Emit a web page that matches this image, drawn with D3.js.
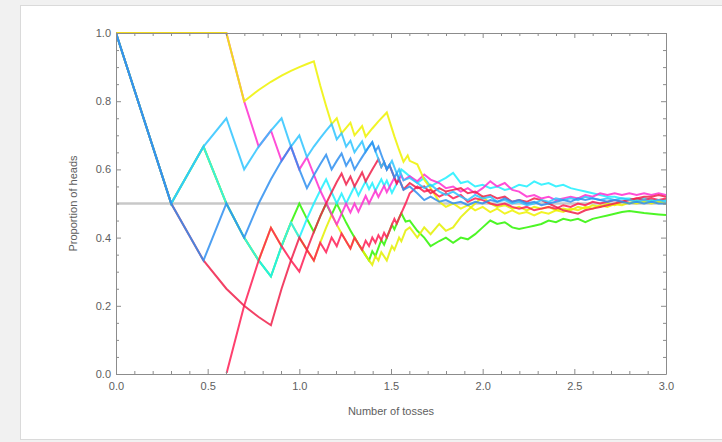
<!DOCTYPE html>
<html>
<head>
<meta charset="utf-8">
<script src="https://cdn.jsdelivr.net/npm/d3@7"></script>
<style>
  html, body { margin: 0; padding: 0; background: #f1f1f1; }
  svg { display: block; }
</style>
</head>
<body>
<svg id="chart" width="722" height="442"></svg>
<script>
// Running proportion of heads, one walk per colour.
// Early tosses are listed as [toss number, proportion]; later tosses share tossTicks.
const tossTicks = [40, 44, 48, 52, 58, 63, 69, 76, 83, 91, 100, 110, 120, 132, 145, 158, 174, 191,
  209, 229, 251, 275, 302, 331, 363, 398, 437, 479, 525, 575, 631, 692, 759, 832, 912, 1000];

const xTicks = [0, 0.5, 1, 1.5, 2, 2.5, 3];
const yTicks = [0, 0.2, 0.4, 0.6, 0.8, 1];

const greenEarly = [[1,1],[2,.5],[3,.667],[4,.5],[5,.4],[6,.333],[7,.286],[8,.375],[9,.444],[10,.5],[11,.455],[12,.417],[13,.462],[14,.5],[15,.467],[16,.5],[17,.471],[18,.444],[19,.421],[20,.4],[21,.381],[22,.364],[23,.348],[24,.333],[25,.36],[26,.346],[27,.37],[28,.393],[29,.379],[30,.4],[31,.419],[32,.438],[33,.424],[34,.441],[35,.457],[36,.472],[37,.459],[38,.447]];
const greenTail = [.45,.42,.40,.375,.39,.40,.385,.40,.395,.41,.43,.45,.44,.445,.43,.425,.43,.435,.44,.45,.445,.455,.45,.455,.445,.455,.46,.465,.47,.475,.478,.475,.472,.47,.468,.466];

const yellowLowEarly = [[1,1],[2,.5],[3,.667],[4,.5],[5,.4],[6,.333],[7,.429],[8,.375],[9,.444],[10,.4],[11,.364],[12,.333],[13,.385],[14,.429],[15,.467],[16,.438],[17,.412],[18,.389],[19,.368],[20,.4],[21,.381],[22,.364],[23,.348],[24,.333],[25,.32],[26,.346],[27,.333],[28,.357],[29,.345],[30,.333],[31,.355],[32,.375],[33,.364],[34,.382],[35,.4],[36,.389],[37,.405],[38,.421]];
const yellowLowTail = [.43,.40,.43,.41,.44,.42,.43,.46,.48,.50,.52,.50,.49,.495,.485,.49,.48,.49,.485,.49,.48,.485,.48,.49,.485,.495,.49,.50,.495,.505,.50,.51,.505,.51,.505,.51];

const cyanEarly = [[1,1],[2,.5],[3,.667],[4,.5],[5,.4],[6,.333],[7,.286],[8,.375],[9,.444],[10,.4],[11,.455],[12,.5],[13,.538],[14,.571],[15,.533],[16,.5],[17,.529],[18,.5],[20,.55],[21,.524],[22,.545],[23,.565],[24,.542],[25,.56],[26,.538],[28,.571],[29,.552],[30,.567],[32,.531],[34,.559],[36,.6],[37,.595]];
const cyanTail = [.58,.56,.575,.55,.565,.575,.59,.56,.565,.55,.555,.545,.55,.54,.545,.555,.55,.565,.555,.56,.55,.555,.545,.54,.535,.53,.525,.52,.52,.515,.515,.51,.515,.51,.51,.51];

const magentaEarly = [[1,1],[2,1],[3,1],[4,1],[5,.8],[6,.667],[7,.714],[8,.625],[9,.667],[10,.6],[11,.636],[13,.538],[16,.438],[18,.5],[19,.474],[20,.5],[21,.476],[23,.522],[24,.5],[26,.538],[27,.519],[29,.552],[30,.533],[33,.576],[34,.559],[36,.583],[37,.568]];
const magentaTail = [.58,.565,.585,.57,.56,.545,.55,.535,.545,.53,.545,.565,.55,.56,.54,.535,.52,.525,.515,.52,.51,.515,.52,.515,.525,.52,.53,.525,.53,.525,.53,.525,.53,.525,.53,.525];

const yellowHighEarly = [[1,1],[2,1],[3,1],[4,1],[5,.8],[6,.833],[7,.857],[8,.875],[9,.889],[10,.9],[11,.909],[12,.917],[13,.846],[14,.786],[15,.733],[16,.75],[17,.706],[18,.722],[19,.737],[20,.70],[21,.714],[22,.727],[23,.696],[25,.72],[27,.741],[30,.767],[33,.697],[35,.657],[37,.622],[39,.641]];
const yellowHighTail = [.625,.615,.57,.545,.505,.49,.50,.485,.495,.48,.49,.475,.485,.47,.48,.47,.475,.465,.475,.47,.48,.475,.485,.48,.49,.485,.495,.49,.498,.495,.503,.50,.505,.50,.505,.50];

const redLowEarly = [[1,0],[2,0],[3,0],[4,0],[5,.2],[6,.333],[7,.429],[8,.375],[9,.333],[10,.3],[11,.364],[12,.333],[13,.385],[14,.357],[15,.4],[16,.375],[17,.412],[18,.389],[19,.368],[20,.4],[21,.381],[22,.364],[23,.391],[24,.375],[25,.4],[26,.385],[27,.407],[28,.393],[29,.414],[30,.4],[31,.419],[32,.438],[33,.455],[34,.441],[35,.457],[36,.472],[37,.486],[38,.5]];
const redLowTail = [.53,.55,.535,.54,.52,.53,.515,.525,.505,.515,.51,.50,.495,.50,.49,.485,.49,.48,.485,.49,.485,.495,.49,.50,.495,.505,.50,.505,.51,.505,.51,.515,.51,.515,.51,.515];

const redHighEarly = [[1,1],[2,.5],[3,.333],[4,.25],[5,.2],[6,.167],[7,.143],[8,.25],[9,.333],[10,.4],[11,.364],[12,.417],[13,.462],[14,.5],[15,.533],[16,.563],[17,.588],[18,.556],[19,.579],[20,.55],[21,.571],[22,.591],[23,.565],[24,.583],[25,.6],[26,.615],[27,.63],[28,.607],[29,.621],[30,.6],[31,.613],[32,.594],[33,.576],[34,.559],[35,.571],[36,.556],[37,.541]];
const redHighTail = [.56,.545,.55,.53,.545,.535,.54,.545,.53,.535,.52,.525,.515,.52,.505,.51,.505,.515,.51,.50,.49,.48,.475,.47,.48,.485,.49,.495,.50,.505,.51,.515,.52,.52,.525,.52];

const skyEarly = [[1,1],[2,.5],[3,.667],[4,.75],[5,.6],[6,.667],[7,.714],[8,.75],[9,.667],[10,.7],[11,.636],[12,.667],[13,.692],[14,.714],[15,.733],[16,.688],[17,.706],[18,.667],[19,.684],[20,.65],[21,.667],[22,.682],[23,.652],[24,.667],[25,.68],[26,.654],[28,.607],[29,.621],[30,.6],[32,.625],[34,.588],[35,.6],[37,.568]];
const skyTail = [.575,.56,.545,.555,.535,.525,.535,.52,.51,.525,.515,.52,.505,.51,.50,.505,.495,.50,.51,.505,.515,.51,.515,.51,.52,.515,.51,.515,.51,.515,.51,.505,.51,.505,.51,.505];

const blueEarly = [[1,1],[2,.5],[3,.333],[4,.5],[5,.4],[6,.5],[7,.571],[8,.625],[9,.667],[10,.6],[11,.545],[12,.583],[13,.615],[14,.643],[15,.6],[16,.625],[17,.647],[18,.611],[19,.632],[20,.6],[21,.619],[22,.636],[23,.652],[24,.667],[25,.68],[26,.654],[27,.667],[28,.643],[30,.6],[31,.613],[33,.576],[34,.588],[37,.54]];
const blueTail = [.55,.53,.51,.52,.505,.51,.50,.505,.495,.505,.50,.51,.505,.515,.505,.51,.50,.505,.495,.50,.505,.51,.505,.515,.51,.515,.51,.505,.51,.505,.50,.505,.50,.505,.50,.50];

// drawing order: first is underneath
const walks = [
  { early: greenEarly, tail: greenTail, color: '#2ef500' },
  { early: yellowLowEarly, tail: yellowLowTail, color: '#e4f000' },
  { early: cyanEarly, tail: cyanTail, color: '#1ff0ff' },
  { early: magentaEarly, tail: magentaTail, color: '#ff2fd0' },
  { early: yellowHighEarly, tail: yellowHighTail, color: '#eef200' },
  { early: redLowEarly, tail: redLowTail, color: '#ff1f55' },
  { early: redHighEarly, tail: redHighTail, color: '#f0204a' },
  { early: skyEarly, tail: skyTail, color: '#2fc4ff' },
  { early: blueEarly, tail: blueTail, color: '#2f8ff0' }
];

const svg = d3.select('#chart');
const plotLeft = 116, plotRight = 666, plotTop = 33, plotBottom = 374;
const font = '"Liberation Sans", Arial, sans-serif';
const frameColor = '#8c8c8c';
const textColor = '#5e5e5e';

// white panel
svg.append('rect')
  .attr('x', 20.5).attr('y', 5.5)
  .attr('width', 720).attr('height', 434)
  .attr('fill', '#fff')
  .attr('stroke', '#dadada');

const x = d3.scaleLinear().domain([0, 3]).range([plotLeft, plotRight]);
const y = d3.scaleLinear().domain([0, 1]).range([plotBottom, plotTop]);

svg.append('defs').append('clipPath').attr('id', 'plotClip')
  .append('rect')
  .attr('x', plotLeft).attr('y', plotTop - 2)
  .attr('width', plotRight - plotLeft).attr('height', plotBottom - plotTop + 1);

// reference line at one half
svg.append('line')
  .attr('x1', x(0)).attr('x2', x(3))
  .attr('y1', y(0.5)).attr('y2', y(0.5))
  .attr('stroke', '#c8c8c8')
  .attr('stroke-width', 2.5);

const line = d3.line()
  .x(d => x(Math.log10(d[0])))
  .y(d => y(d[1]));

svg.append('g')
  .attr('clip-path', 'url(#plotClip)')
  .selectAll('path')
  .data(walks)
  .join('path')
  .attr('d', w => line(w.early.concat(w.tail.map((p, i) => [tossTicks[i], p]))))
  .attr('fill', 'none')
  .attr('stroke', w => w.color)
  .attr('stroke-width', 2)
  .attr('stroke-opacity', 0.85);

// frame with inward ticks
const fmt = d3.format('.1f');
const minorX = d3.range(1, 30).map(i => i / 10).filter((v, i) => (i + 1) % 5 !== 0);
const minorY = d3.range(1, 20).map(i => i / 20).filter((v, i) => (i + 1) % 4 !== 0);

const sides = [
  { make: () => d3.axisBottom(x), at: `translate(0,${plotBottom})`, major: xTicks, minor: minorX, labels: true, pad: 8 },
  { make: () => d3.axisTop(x), at: `translate(0,${plotTop})`, major: xTicks, minor: minorX, labels: false, pad: 3 },
  { make: () => d3.axisLeft(y), at: `translate(${plotLeft},0)`, major: yTicks, minor: minorY, labels: true, pad: 5 },
  { make: () => d3.axisRight(y), at: `translate(${plotRight},0)`, major: yTicks, minor: minorY, labels: false, pad: 3 }
];

sides.forEach(s => {
  svg.append('g')
    .attr('transform', s.at)
    .call(s.make().tickValues(s.minor).tickSize(-3).tickSizeOuter(0).tickFormat(''))
    .call(g => g.select('.domain').remove())
    .call(g => g.selectAll('line').attr('stroke', frameColor));

  const g = svg.append('g')
    .attr('transform', s.at)
    .call(s.make().tickValues(s.major).tickSize(-5).tickSizeOuter(0)
      .tickPadding(s.pad)
      .tickFormat(s.labels ? fmt : ''));
  g.select('.domain').attr('stroke', frameColor);
  g.selectAll('line').attr('stroke', frameColor);
  g.selectAll('text')
    .attr('fill', textColor)
    .style('font-family', font)
    .style('font-size', '11px');
});

// axis titles
svg.append('text')
  .attr('x', (plotLeft + plotRight) / 2)
  .attr('y', 415)
  .attr('text-anchor', 'middle')
  .attr('fill', textColor)
  .style('font-family', font)
  .style('font-size', '11px')
  .text('Number of tosses');

svg.append('text')
  .attr('transform', `translate(77,${(plotTop + plotBottom) / 2}) rotate(-90)`)
  .attr('text-anchor', 'middle')
  .attr('fill', textColor)
  .style('font-family', font)
  .style('font-size', '11px')
  .text('Proportion of heads');
</script>
</body>
</html>
